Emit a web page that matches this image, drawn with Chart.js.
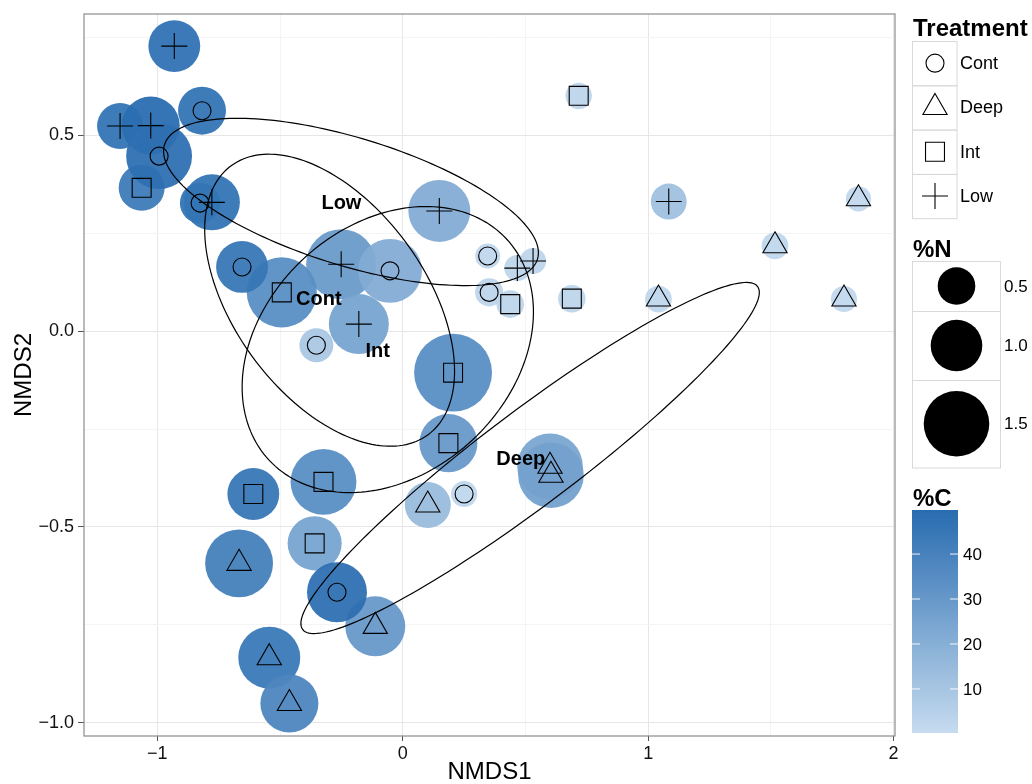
<!DOCTYPE html>
<html lang="en">
<head>
  <meta charset="UTF-8">
  <title>NMDS - Treatment, %N, %C</title>
  <script src="https://cdn.jsdelivr.net/npm/chart.js@4"></script>
  <style>
    html, body { margin: 0; padding: 0; background: #fff; }
    #wrap { width: 1032px; height: 784px; }
  </style>
</head>
<body>
  <div id="wrap"><canvas id="nmds" width="1032" height="784"></canvas></div>

  <script>
    // ---- values ----
    const treatments = ['Cont', 'Deep', 'Int', 'Low'];

    const contNMDS1 = [-0.818, -0.993, -0.826, -0.655, -0.052, -0.352, 0.346, 0.352, 0.250, -0.268];
    const contNMDS2 = [0.563, 0.447, 0.327, 0.164, 0.154, -0.036, 0.192, 0.099, -0.416, -0.667];
    const contN = [0.87, 1.51, 0.60, 1.01, 1.44, 0.37, 0.05, 0.16, 0.09, 1.30];
    const contC = [46, 48, 46, 45, 21, 9, 2, 3, 2, 48];

    const deepNMDS1 = [1.857, 1.517, 1.798, 1.042, 0.102, 0.600, 0.604, -0.667, -0.112, -0.544, -0.462];
    const deepNMDS2 = [0.338, 0.218, 0.082, 0.082, -0.444, -0.345, -0.368, -0.593, -0.754, -0.834, -0.951];
    const deepN = [0.06, 0.11, 0.09, 0.11, 0.80, 1.50, 1.50, 1.58, 1.30, 1.37, 1.23];
    const deepC = [1.5, 2, 1.5, 2, 14, 24, 26, 41, 30, 44, 38];

    const intNMDS1 = [-1.064, -0.493, 0.205, 0.186, -0.323, -0.609, -0.359, 0.717, 0.689, 0.438];
    const intNMDS2 = [0.366, 0.099, -0.106, -0.286, -0.385, -0.416, -0.542, 0.601, 0.083, 0.069];
    const intN = [0.80, 1.66, 1.94, 1.23, 1.51, 1.01, 1.09, 0.10, 0.14, 0.14];
    const intC = [43, 34, 34, 30, 34, 45, 25, 3, 3, 3];

    const lowNMDS1 = [-0.931, -1.152, -1.027, -0.778, -0.251, 0.149, -0.179, 1.084, 0.467, 0.531];
    const lowNMDS2 = [0.728, 0.524, 0.525, 0.329, 0.171, 0.307, 0.018, 0.331, 0.161, 0.179];
    const lowN = [1.01, 0.80, 1.23, 1.16, 1.66, 1.37, 1.30, 0.44, 0.09, 0.09];
    const lowC = [47, 46, 49, 46, 29, 21, 25, 12, 3, 3];

    // confidence ellipses: centre + two semi-axis vectors (NMDS units)
    const ellipseNames = ['Low', 'Cont', 'Int', 'Deep'];
    const ellipseCx = [-0.211, -0.298, -0.061, 0.519];
    const ellipseCy = [0.330, 0.079, -0.047, -0.324];
    const ellipseAx = [0.760, 0.400, 0.483, 0.927];
    const ellipseAy = [-0.146, -0.344, 0.283, 0.438];
    const ellipseBx = [-0.076, -0.315, 0.345, 0.115];
    const ellipseBy = [-0.156, -0.144, -0.231, -0.096];
    const labelNMDS1 = [-0.250, -0.342, -0.102, 0.481];
    const labelNMDS2 = [0.327, 0.082, -0.052, -0.328];

    const xTicks = [-1, -0.5, 0, 0.5, 1, 1.5, 2];
    const yTicks = [-1, -0.75, -0.5, -0.25, 0, 0.25, 0.5, 0.75];
    const nBreaks = [0.5, 1.0, 1.5];
    const cBreaks = [10, 20, 30, 40];
    const cLimits = [0.2, 49.8];

    // ---- mapping helpers ----
    const FONT = '"Liberation Sans", Arial, Helvetica, sans-serif';
    const lowRGB = [198, 219, 239];
    const highRGB = [40, 108, 176];

    function sizeFor(n) {
      return 11.8 + 14 * n;
    }

    function colourFor(c, alpha) {
      const t = Math.min(1, Math.max(0, (c - cLimits[0]) / (cLimits[1] - cLimits[0])));
      const rgb = lowRGB.map((v, k) => Math.round(v + (highRGB[k] - v) * t));
      return `rgba(${rgb[0]}, ${rgb[1]}, ${rgb[2]}, ${alpha})`;
    }

    function minus(s) {
      return String(s).replace('-', '\u2212');
    }

    const groups = [
      { xs: contNMDS1, ys: contNMDS2, n: contN, c: contC, shape: 'circle', r: 9 },
      { xs: deepNMDS1, ys: deepNMDS2, n: deepN, c: deepC, shape: 'triangle', r: 14 },
      { xs: intNMDS1, ys: intNMDS2, n: intN, c: intC, shape: 'rect', r: 13.4 },
      { xs: lowNMDS1, ys: lowNMDS2, n: lowN, c: lowC, shape: 'cross', r: 13 }
    ];

    const datasets = [];
    groups.forEach((g, i) => {
      const pts = g.xs.map((x, k) => ({ x: x, y: g.ys[k] }));
      // bubble sized by %N, coloured by %C
      datasets.push({
        label: treatments[i] + ' bubbles',
        data: pts,
        pointStyle: 'circle',
        pointRadius: g.n.map(sizeFor),
        pointBackgroundColor: g.c.map(c => colourFor(c, 0.95)),
        pointBorderWidth: 0,
        pointBorderColor: 'rgba(0,0,0,0)',
        order: 2
      });
      // treatment shape on top
      datasets.push({
        label: treatments[i],
        data: pts,
        pointStyle: g.shape,
        pointRadius: g.r,
        pointBackgroundColor: 'rgba(0,0,0,0)',
        pointBorderColor: '#000',
        pointBorderWidth: 1.1,
        order: 1
      });
    });

    // wanted plot panel, in canvas pixels
    const panel = { left: 84, top: 14, right: 895, bottom: 736 };

    // pin the panel where the original has it
    const panelPlugin = {
      id: 'panel',
      afterLayout(chart) {
        const area = chart.chartArea;
        const ys = chart.scales.y;
        area.top = panel.top;
        area.height = area.bottom - area.top;
        ys.top = panel.top;
        ys.height = ys.bottom - ys.top;
        ys.configure();
      }
    };

    // ellipses, group labels and panel border
    const overlayPlugin = {
      id: 'overlay',
      afterDatasetsDraw(chart) {
        const { ctx, chartArea } = chart;
        const xs = chart.scales.x, ys = chart.scales.y;
        ctx.save();
        ctx.beginPath();
        ctx.rect(chartArea.left, chartArea.top, chartArea.width, chartArea.height);
        ctx.clip();
        ctx.strokeStyle = '#000';
        ctx.lineWidth = 1.2;
        ellipseNames.forEach((name, k) => {
          ctx.beginPath();
          for (let i = 0; i <= 180; i++) {
            const t = i / 180 * Math.PI * 2;
            const vx = ellipseCx[k] + ellipseAx[k] * Math.cos(t) + ellipseBx[k] * Math.sin(t);
            const vy = ellipseCy[k] + ellipseAy[k] * Math.cos(t) + ellipseBy[k] * Math.sin(t);
            const px = xs.getPixelForValue(vx), py = ys.getPixelForValue(vy);
            if (i === 0) ctx.moveTo(px, py); else ctx.lineTo(px, py);
          }
          ctx.closePath();
          ctx.stroke();
        });
        ctx.fillStyle = '#000';
        ctx.font = 'bold 20px ' + FONT;
        ctx.textAlign = 'center';
        ctx.textBaseline = 'middle';
        ellipseNames.forEach((name, k) => {
          ctx.fillText(name, xs.getPixelForValue(labelNMDS1[k]), ys.getPixelForValue(labelNMDS2[k]));
        });
        ctx.restore();

        ctx.save();
        ctx.strokeStyle = '#8c8c8c';
        ctx.lineWidth = 1.2;
        ctx.strokeRect(chartArea.left, chartArea.top, chartArea.width, chartArea.height);
        ctx.restore();
      }
    };

    // legends on the right: Treatment, %N, %C
    const legendPlugin = {
      id: 'sideLegend',
      afterDraw(chart) {
        const ctx = chart.ctx;
        const drawPoint = Chart.helpers.drawPoint;
        ctx.save();
        ctx.textAlign = 'left';

        // Treatment
        ctx.fillStyle = '#000';
        ctx.font = 'bold 24px ' + FONT;
        ctx.textBaseline = 'alphabetic';
        ctx.fillText('Treatment', 913, 36);
        const keyH = 44.3;
        groups.forEach((g, i) => {
          const top = 41 + i * keyH;
          ctx.strokeStyle = '#d9d9d9';
          ctx.lineWidth = 1;
          ctx.strokeRect(912.5, top + 0.5, 44.5, keyH);
          ctx.strokeStyle = '#000';
          ctx.fillStyle = 'rgba(0,0,0,0)';
          ctx.lineWidth = 1.1;
          drawPoint(ctx, { pointStyle: g.shape, radius: g.r, borderWidth: 1.1, rotation: 0 }, 935, top + keyH / 2);
          ctx.fillStyle = '#000';
          ctx.font = '18px ' + FONT;
          ctx.textBaseline = 'middle';
          ctx.fillText(treatments[i], 960, top + keyH / 2 + 1);
        });

        // %N
        ctx.font = 'bold 24px ' + FONT;
        ctx.textBaseline = 'alphabetic';
        ctx.fillText('%N', 913, 257);
        const sizeBoxH = [50, 69, 87.5];
        let top = 261;
        nBreaks.forEach((n, i) => {
          ctx.strokeStyle = '#d9d9d9';
          ctx.lineWidth = 1;
          ctx.strokeRect(912.5, top + 0.5, 88, sizeBoxH[i]);
          ctx.fillStyle = '#000';
          drawPoint(ctx, { pointStyle: 'circle', radius: sizeFor(n), borderWidth: 0, rotation: 0 }, 956.5, top + sizeBoxH[i] / 2);
          ctx.font = '17px ' + FONT;
          ctx.textBaseline = 'middle';
          ctx.fillText(n.toFixed(1), 1004, top + sizeBoxH[i] / 2 + 1);
          top += sizeBoxH[i];
        });

        // %C colour bar
        ctx.font = 'bold 24px ' + FONT;
        ctx.textBaseline = 'alphabetic';
        ctx.fillStyle = '#000';
        ctx.fillText('%C', 913, 506);
        const barL = 912, barR = 958, barT = 510, barB = 733;
        const grad = ctx.createLinearGradient(0, barB, 0, barT);
        for (let s = 0; s <= 10; s++) {
          const c = cLimits[0] + (cLimits[1] - cLimits[0]) * s / 10;
          grad.addColorStop(s / 10, colourFor(c, 1));
        }
        ctx.fillStyle = grad;
        ctx.fillRect(barL, barT, barR - barL, barB - barT);
        ctx.strokeStyle = 'rgba(255,255,255,0.9)';
        ctx.lineWidth = 1;
        ctx.font = '17px ' + FONT;
        ctx.textBaseline = 'middle';
        cBreaks.forEach(c => {
          const yy = barB - (c - cLimits[0]) / (cLimits[1] - cLimits[0]) * (barB - barT);
          ctx.beginPath();
          ctx.moveTo(barL, yy); ctx.lineTo(barL + 8, yy);
          ctx.moveTo(barR - 8, yy); ctx.lineTo(barR, yy);
          ctx.stroke();
          ctx.fillStyle = '#000';
          ctx.fillText(String(c), 963, yy + 1);
        });
        ctx.restore();
      }
    };

    function isMajorX(v) { return Math.abs(v - Math.round(v)) < 1e-9; }
    function isMajorY(v) { return Math.abs(v * 2 - Math.round(v * 2)) < 1e-9; }

    Chart.defaults.font.family = FONT;

    new Chart(document.getElementById('nmds').getContext('2d'), {
      type: 'scatter',
      data: { datasets: datasets },
      options: {
        responsive: false,
        animation: false,
        events: [],
        devicePixelRatio: 1,
        layout: { padding: { left: 0, right: 1032 - panel.right, top: panel.top, bottom: 0 } },
        plugins: {
          legend: { display: false },
          tooltip: { enabled: false }
        },
        scales: {
          x: {
            type: 'linear',
            min: -1.299,
            max: 2.006,
            afterBuildTicks: s => { s.ticks = xTicks.map(v => ({ value: v })); },
            afterFit: s => { s.height = 784 - panel.bottom; s.paddingLeft = 0; s.paddingRight = 0; },
            border: { display: false },
            grid: {
              color: c => isMajorX(c.tick.value) ? '#e6e6e6' : '#f4f4f4',
              lineWidth: 1,
              drawTicks: true,
              tickLength: 5,
              tickColor: c => isMajorX(c.tick.value) ? '#555' : 'rgba(0,0,0,0)'
            },
            ticks: {
              autoSkip: false,
              maxRotation: 0,
              padding: 2,
              color: '#111',
              font: { size: 18 },
              callback: v => isMajorX(v) ? minus(Math.round(v)) : ''
            },
            title: {
              display: true,
              text: 'NMDS1',
              color: '#000',
              font: { size: 24, lineHeight: 1 },
              padding: { top: 0, bottom: 0 }
            }
          },
          y: {
            type: 'linear',
            min: -1.034,
            max: 0.81,
            afterBuildTicks: s => { s.ticks = yTicks.map(v => ({ value: v })); },
            afterFit: s => { s.width = panel.left; s.paddingTop = 0; s.paddingBottom = 0; },
            border: { display: false },
            grid: {
              color: c => isMajorY(c.tick.value) ? '#e6e6e6' : '#f4f4f4',
              lineWidth: 1,
              drawTicks: true,
              tickLength: 6,
              tickColor: c => isMajorY(c.tick.value) ? '#555' : 'rgba(0,0,0,0)'
            },
            ticks: {
              autoSkip: false,
              padding: 4,
              color: '#111',
              font: { size: 18 },
              callback: v => isMajorY(v) ? minus(v.toFixed(1)) : ''
            },
            title: {
              display: true,
              text: 'NMDS2',
              color: '#000',
              font: { size: 24, lineHeight: 1 },
              padding: { top: 12, bottom: 0 }
            }
          }
        }
      },
      plugins: [panelPlugin, overlayPlugin, legendPlugin]
    });
  </script>
</body>
</html>
